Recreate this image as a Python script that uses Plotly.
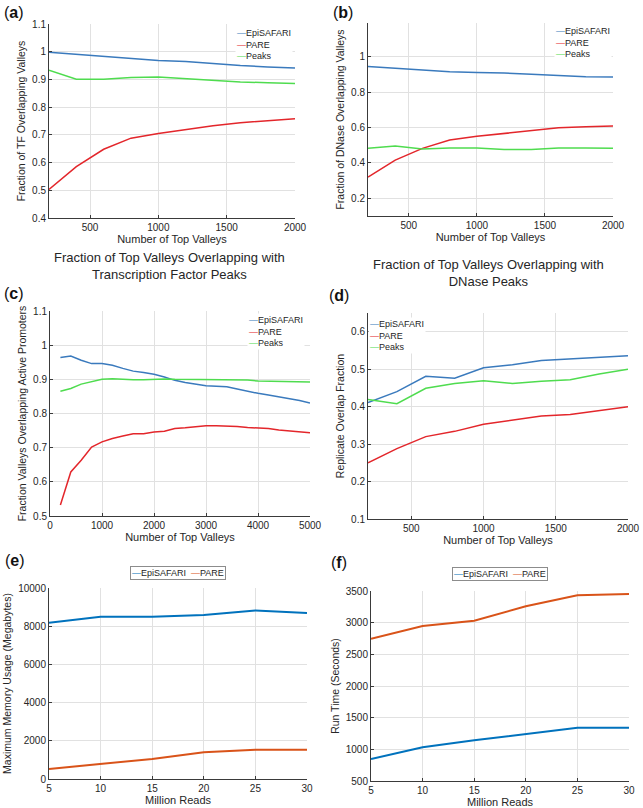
import plotly.graph_objects as go

# ---------------------------------------------------------------------
# data
# ---------------------------------------------------------------------
valleys_2k = [200, 400, 600, 800, 1000, 1200, 1400, 1600, 1800, 2000]
valleys_5k = [200, 400, 600, 800, 1000, 1200, 1400, 1600, 1800, 2000,
              2200, 2400, 2600, 2800, 3000, 3200, 3400, 3600, 3800, 4000,
              4200, 4400, 4600, 4800, 5000]
million_reads = [5, 10, 15, 20, 25, 30]

# (a) TF peaks
tf_episafari = [0.998, 0.991, 0.984, 0.975, 0.968, 0.965, 0.957, 0.950, 0.945, 0.941]
tf_pare = [0.503, 0.585, 0.648, 0.688, 0.705, 0.720, 0.733, 0.744, 0.751, 0.758]
tf_peaks = [0.933, 0.901, 0.901, 0.907, 0.909, 0.903, 0.895, 0.891, 0.888, 0.885]

# (b) DNase peaks
dn_episafari = [0.944, 0.934, 0.927, 0.915, 0.910, 0.908, 0.900, 0.893, 0.886, 0.885]
dn_pare = [0.320, 0.416, 0.482, 0.529, 0.550, 0.567, 0.580, 0.598, 0.604, 0.608]
dn_peaks = [0.482, 0.495, 0.478, 0.484, 0.484, 0.475, 0.475, 0.484, 0.484, 0.482]

# (c) active promoters
ap_episafari = [0.964, 0.968, 0.956, 0.946, 0.946, 0.941, 0.932, 0.924, 0.920, 0.915,
                0.907, 0.897, 0.891, 0.887, 0.881, 0.880, 0.878, 0.872, 0.865, 0.859,
                0.854, 0.849, 0.844, 0.838, 0.831]
ap_pare = [0.532, 0.629, 0.663, 0.702, 0.717, 0.727, 0.734, 0.741, 0.741, 0.746,
           0.748, 0.756, 0.758, 0.761, 0.764, 0.764, 0.764, 0.762, 0.759, 0.758,
           0.756, 0.752, 0.749, 0.746, 0.744]
ap_peaks = [0.865, 0.873, 0.886, 0.893, 0.900, 0.902, 0.900, 0.899, 0.899, 0.901,
            0.901, 0.900, 0.900, 0.900, 0.900, 0.900, 0.900, 0.900, 0.898, 0.895,
            0.894, 0.894, 0.893, 0.892, 0.892]

# (d) replicate overlap
ro_episafari = [0.411, 0.440, 0.481, 0.476, 0.504, 0.512, 0.523, 0.527, 0.531, 0.536]
ro_pare = [0.250, 0.288, 0.320, 0.334, 0.353, 0.363, 0.375, 0.379, 0.390, 0.400]
ro_peaks = [0.419, 0.408, 0.449, 0.462, 0.469, 0.462, 0.468, 0.472, 0.487, 0.500]

# (e) memory, (f) run time
mem_episafari = [8175, 8490, 8490, 8580, 8825, 8685]
mem_pare = [526, 790, 1053, 1404, 1526, 1526]
time_episafari = [847, 1032, 1142, 1237, 1342, 1342]
time_pare = [2747, 2947, 3032, 3258, 3432, 3453]

# ---------------------------------------------------------------------
W, H = 643, 808
FONT = "Liberation Sans, Arial, sans-serif"
TXT = "#262626"
BLUE, RED, GREEN = "#3a7abd", "#e3262b", "#4fdc4f"
MBLUE, MORANGE = "#0072BD", "#D95319"


def px_x(v):
    return v / W


def px_y(v):
    return 1 - v / H


fig = go.Figure()

# pixel boxes (left, right, top, bottom) of each panel
panels = [
    dict(box=(49, 295, 24, 218), xr=[200, 2000], xd=500, yr=[0.4, 1.1], yd=0.1,
         xt="Number of Top Valleys", yt="Fraction of TF Overlapping Valleys",
         x=valleys_2k, series=[(tf_episafari, BLUE), (tf_pare, RED), (tf_peaks, GREEN)]),
    dict(box=(368, 613, 23, 216), xr=[200, 2000], xd=500, yr=[0.1, 1.19], yd=0.2, y0=0.2,
         xt="Number of Top Valleys", yt="Fraction of DNase Overlapping Valleys",
         x=valleys_2k, series=[(dn_episafari, BLUE), (dn_pare, RED), (dn_peaks, GREEN)]),
    dict(box=(50, 310, 311, 516), xr=[0, 5000], xd=1000, yr=[0.5, 1.1], yd=0.1,
         xt="Number of Top Valleys", yt="Fraction Valleys Overlapping Active Promoters",
         x=valleys_5k, series=[(ap_episafari, BLUE), (ap_pare, RED), (ap_peaks, GREEN)]),
    dict(box=(368, 628, 313, 519), xr=[200, 2000], xd=500, yr=[0.1, 0.65], yd=0.1,
         xt="Number of Top Valleys", yt="Replicate Overlap Fraction",
         x=valleys_2k, series=[(ro_episafari, BLUE), (ro_pare, RED), (ro_peaks, GREEN)]),
    dict(box=(49, 307, 588, 779), xr=[5, 30], xd=5, yr=[0, 10000], yd=2000,
         xt="Million Reads", yt="Maximum Memory Usage (Megabytes)",
         x=million_reads, series=[(mem_episafari, MBLUE), (mem_pare, MORANGE)], lw=2),
    dict(box=(371, 629, 591, 781), xr=[5, 30], xd=5, yr=[500, 3500], yd=500,
         xt="Million Reads", yt="Run Time (Seconds)",
         x=million_reads, series=[(time_episafari, MBLUE), (time_pare, MORANGE)], lw=2),
]

layout_axes = {}
for i, p in enumerate(panels, start=1):
    l, r, t, b = p["box"]
    xa = "xaxis" if i == 1 else f"xaxis{i}"
    ya = "yaxis" if i == 1 else f"yaxis{i}"
    common = dict(showline=True, linecolor="#3a3a3a", linewidth=1, mirror=False,
                  showgrid=True, gridcolor="#e1e1e1", gridwidth=1, zeroline=False,
                  ticks="inside", ticklen=3, tickcolor="#3a3a3a", automargin=False,
                  tickformat="d" if p["yd"] >= 1 else None,
                  tickfont=dict(size=10, color=TXT, family=FONT))
    layout_axes[xa] = dict(common, domain=[px_x(l), px_x(r)], range=p["xr"],
                           dtick=p["xd"], tick0=0, anchor=f"y{i}" if i > 1 else "y",
                           title=dict(text=p["xt"], standoff=0,
                                      font=dict(size=11, color=TXT, family=FONT)))
    layout_axes[ya] = dict(common, domain=[px_y(b), px_y(t)], range=p["yr"],
                           dtick=p["yd"], tick0=p.get("y0", 0),
                           anchor=f"x{i}" if i > 1 else "x",
                           title=dict(text=p["yt"], standoff=4,
                                      font=dict(size=10.5, color=TXT, family=FONT)))
    for vals, col in p["series"]:
        fig.add_trace(go.Scatter(
            x=p["x"], y=vals, mode="lines",
            line=dict(color=col, width=p.get("lw", 1.5)),
            xaxis=f"x{i}" if i > 1 else "x", yaxis=f"y{i}" if i > 1 else "y",
            showlegend=False,
        ))

fig.update_layout(**layout_axes)

ann = []
# panel letters
for letter, x, y in [("a", 2, 12), ("b", 331, 12), ("c", 2, 293), ("d", 327, 295),
                     ("e", 3, 560), ("f", 329, 562)]:
    ann.append(dict(text=f"(<b>{letter}</b>)", x=px_x(x), y=px_y(y), xref="paper",
                    yref="paper", xanchor="left", yanchor="middle", showarrow=False,
                    font=dict(size=16, color="#111", family=FONT)))

# captions under (a) and (b)
ann.append(dict(text="Fraction of Top Valleys Overlapping with<br>Transcription Factor Peaks",
                x=px_x(170), y=px_y(266), xref="paper", yref="paper", showarrow=False,
                xanchor="center", yanchor="middle",
                font=dict(size=13, color=TXT, family=FONT)))
ann.append(dict(text="Fraction of Top Valleys Overlapping with<br>DNase Peaks",
                x=px_x(488), y=px_y(273), xref="paper", yref="paper", showarrow=False,
                xanchor="center", yanchor="middle",
                font=dict(size=13, color=TXT, family=FONT)))


def legend_text(items):
    return "<br>".join(f'<span style="color:{c}">—</span>{n}' for n, c in items)


three = [("EpiSAFARI", BLUE), ("PARE", RED), ("Peaks", GREEN)]
# (left px, top px) of the in-plot legends
for lx, ty in [(235, 26), (554, 24), (247, 313), (368, 317)]:
    ann.append(dict(text=legend_text(three), x=px_x(lx), y=px_y(ty), xref="paper",
                    yref="paper", xanchor="left", yanchor="top", align="left",
                    showarrow=False, bgcolor="white", borderpad=1,
                    font=dict(size=9, color=TXT, family=FONT)))

two = (f'<span style="color:{MBLUE}">—</span>EpiSAFARI  '
       f'<span style="color:{MORANGE}">—</span>PARE')
for cx, cy in [(178, 573), (500, 574)]:
    ann.append(dict(text=two, x=px_x(cx), y=px_y(cy), xref="paper", yref="paper",
                    xanchor="center", yanchor="middle", showarrow=False,
                    bgcolor="white", bordercolor="#8c8c8c", borderwidth=1,
                    borderpad=1, font=dict(size=9, color=TXT, family=FONT)))

fig.update_layout(
    width=W, height=H,
    margin=dict(l=0, r=0, t=0, b=0),
    paper_bgcolor="white", plot_bgcolor="white",
    font=dict(family=FONT, color=TXT),
    annotations=ann,
    showlegend=False,
)

# page body has a default 8px margin; drop it so the figure sits at (0, 0)
fig.write_html("out.html", config={"displayModeBar": False},
               post_script="document.body.style.margin='0';")
